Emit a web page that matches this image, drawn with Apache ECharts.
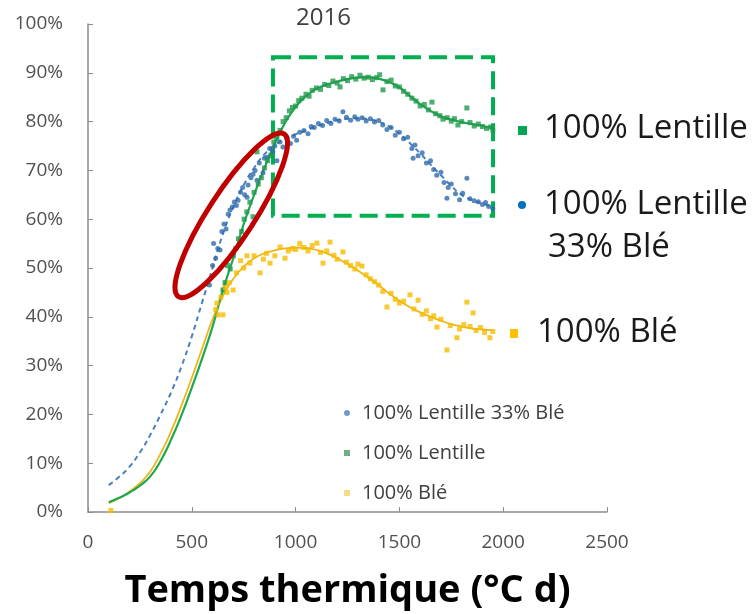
<!DOCTYPE html>
<html lang="fr">
<head>
    <meta charset="UTF-8">
    <title>2016</title>
    <script src="https://cdn.jsdelivr.net/npm/echarts@6/dist/echarts.min.js"></script>
    <style>
        html,body{
            margin: 0;
            height: 100%;
            background: #fff;
        }
    </style>
</head>
<body>
<div id="main" style="width: 755px;height: 614px"></div>
<script>
    // noms des séries
    var nomMelange = '100% Lentille 33% Blé';
    var nomLentille = '100% Lentille';
    var nomBle = '100% Blé';

    // points mesurés [temps thermique, %]
    var ptsMelange = [[585,46.5],[600,50.5],[605,55],[615,52],[625,54],[636,53.7],[645,57.5],[655,59],[665,58],[675,61],
        [684,61.9],[695,62.5],[705,63.5],[715,62.8],[723,63.9],[735,65.5],[745,66.5],[755,65],[766,64.5],[771,67],
        [785,68.5],[795,69.2],[805,70],[814,68],[825,71.5],[843,69.5],[850,72.5],[862,72.7],[875,74.5],[890,73.8],
        [900,75],[910,72],[925,75.8],[939,74.8],[958,76.8],[975,75.5],[990,77],[1005,76.2],[1020,77.8],[1040,78.2],
        [1060,77.5],[1075,79],[1090,78.8],[1110,79.6],[1130,79.2],[1150,80.2],[1170,79.6],[1190,80.5],[1210,80.1],[1228,82],
        [1245,80.9],[1265,80.3],[1285,81],[1300,80.5],[1320,80.8],[1340,80.1],[1360,80.6],[1380,79.9],[1400,80.2],[1420,79.3],
        [1440,78.4],[1460,78.8],[1480,77.2],[1500,77.8],[1520,76.5],[1540,76.8],[1560,74.5],[1566,72.5],[1575,75.2],[1590,73],
        [1610,73.6],[1630,71.5],[1650,72],[1665,70.2],[1680,69],[1700,69.6],[1715,67.5],[1729,64.3],[1735,66.5],[1750,67.2],
        [1770,65.2],[1790,64],[1805,65.3],[1825,68.4],[1840,64.2],[1860,63.8],[1880,63.6],[1900,63],[1915,63.4],[1930,62.6],[1950,62.2]];

    var ptsLentille = [[650,45.5],[660,47],[672,50.5],[685,49.8],[700,52.5],[712,54],[725,56],[740,57.5],[752,60],[765,61.5],
        [780,63.5],[795,60.5],[800,65.5],[814,73.8],[820,67.2],[835,68.5],[850,70.5],[865,72],[880,73],[895,75.8],
        [910,76.5],[925,78.2],[940,80],[955,80.8],[970,82.2],[985,82.9],[1000,83.2],[1015,84.3],[1030,84.8],[1050,85.6],
        [1065,85.2],[1080,86.4],[1100,86.9],[1120,86.6],[1140,87.6],[1160,87.4],[1180,88.3],[1200,87.9],[1214,87.1],[1230,88.8],
        [1250,88.4],[1270,89.2],[1290,88.7],[1310,89.5],[1330,88.9],[1350,89.1],[1370,88.6],[1390,89],[1405,89.6],[1421,86.5],
        [1440,88.2],[1460,88.5],[1480,87.3],[1500,87.1],[1520,86.2],[1540,85.6],[1560,84.8],[1580,84.2],[1600,83.2],[1620,83.5],
        [1640,82.4],[1657,84],[1675,81.6],[1695,81.2],[1710,80.5],[1730,80.8],[1750,80.1],[1765,80.6],[1782,79.3],[1800,80],
        [1825,82.8],[1840,79.8],[1860,79.1],[1880,79.5],[1900,79],[1920,78.6],[1940,78.9],[1950,78.3]];

    var ptsBle = [[110,0.3],[615,41.5],[621,42.8],[626,40.4],[640,44],[650,40.4],[662,46],[669,45],[680,47],[699,45.5],
        [715,49],[735,51.5],[750,50],[766,52.5],[780,51],[800,52.5],[829,49],[845,51.8],[860,53],[877,51],
        [900,52.5],[925,54.3],[949,52],[965,53.5],[985,54],[1000,53.8],[1020,55],[1040,54.2],[1060,53.5],[1080,54.6],
        [1103,55.1],[1120,53.2],[1132,51],[1150,53.5],[1166,55.3],[1185,52.6],[1200,51.8],[1228,53.3],[1245,51.2],[1265,50.5],
        [1285,49.8],[1300,50.8],[1320,50.4],[1340,48.6],[1360,47.8],[1380,47.2],[1400,46.5],[1420,45.2],[1440,42],[1460,44.8],
        [1480,43.6],[1500,42.8],[1520,43.2],[1551,44.5],[1570,41.6],[1590,43.4],[1610,40.5],[1630,41.2],[1650,39.6],[1665,40.2],
        [1681,37.9],[1700,39.5],[1729,33.2],[1745,38.2],[1777,35.7],[1790,37.5],[1810,38.4],[1825,43],[1840,38],[1855,40.8],
        [1870,37.2],[1890,37.8],[1910,36.8],[1936,35.7],[1950,37]];

    // courbes ajustées (lues tous les 50 °C d)
    var fitMelange = [[100,5.5],[150,7.2],[200,9.3],[250,12.2],[300,15.8],[350,20],[400,24.5],[450,29.8],[500,36],[550,43],
        [600,50],[650,57],[700,62.5],[750,67],[800,70.5],[850,73.3],[900,75.2],[950,76.5],[1000,77.4],[1050,78.2],
        [1100,79],[1150,79.7],[1200,80.3],[1250,80.6],[1300,80.7],[1350,80.5],[1400,80],[1450,79],[1500,77.5],[1550,75.6],
        [1600,73.5],[1650,71.2],[1700,69],[1750,66.8],[1800,65],[1850,63.9],[1900,63.2],[1950,62.5]];
    var fitLentille = [[100,2],[150,2.9],[200,4],[250,5.4],[300,7.3],[350,10.5],[400,14.8],[450,19.8],[500,25.5],[550,31.5],
        [600,38],[650,45.5],[700,52],[750,59],[800,65],[850,70.5],[900,75.5],[950,79.8],[1000,83],[1050,85.2],
        [1100,86.7],[1150,87.6],[1200,88.2],[1250,88.7],[1300,89],[1350,89.1],[1400,88.8],[1450,88.1],[1500,87],[1550,85.3],
        [1600,83.6],[1650,82.2],[1700,81.1],[1750,80.4],[1800,79.9],[1850,79.5],[1900,79.1],[1950,78.7]];
    var fitBle = [[100,1.8],[150,2.8],[200,4.2],[250,5.9],[300,8.3],[350,12],[400,16.5],[450,21.8],[500,27.5],[550,33.5],
        [600,39.5],[650,44.3],[700,47.8],[750,50.3],[800,52],[850,53],[900,53.6],[950,54],[1000,54.2],[1050,54.1],
        [1100,53.7],[1150,53],[1200,52],[1250,50.8],[1300,49.5],[1350,48],[1400,46.5],[1450,44.8],[1500,43.3],[1550,42],
        [1600,40.9],[1650,40],[1700,39.2],[1750,38.5],[1800,38],[1850,37.6],[1900,37.4],[1950,37.2]];

    // zone encadrée (pointillés verts) et ellipse rouge, en coordonnées des axes
    var zoneCadre = [[891, 93.2], [1951, 60.7]];
    var centreEllipse = [690, 60.8];

    var police = '"Open Sans", "Liberation Sans", sans-serif';
    var cBleu = '#2f6aad', cVert = '#1f9a4c', cJaune = '#f5bd00';

    var myChart = echarts.init(document.getElementById('main'));

    var option = {
        animation: false,
        title: {
            text: '2016',
            left: 296,
            top: 6,
            padding: 0,
            textStyle: {fontSize: 24, fontWeight: 'normal', color: '#404040', fontFamily: police}
        },
        legend: {
            orient: 'vertical',
            left: 339,
            top: 398,
            itemWidth: 6,
            itemHeight: 6,
            itemGap: 20,
            selectedMode: false,
            textStyle: {fontSize: 20, color: '#404040', fontFamily: police, padding: [0, 0, 0, 7]},
            data: [
                {name: nomMelange, icon: 'circle', itemStyle: {color: '#4f82bd'}},
                {name: nomLentille, icon: 'rect', itemStyle: {color: '#4a9a6a'}},
                {name: nomBle, icon: 'rect', itemStyle: {color: '#f2d46a'}}
            ]
        },
        grid: {left: 88, right: 148, top: 24, bottom: 102, outerBoundsMode: 'none'},
        xAxis: {
            type: 'value',
            min: 0,
            max: 2500,
            interval: 500,
            name: 'Temps thermique (°C d)',
            nameLocation: 'middle',
            nameGap: 60,
            nameTextStyle: {fontSize: 38, fontWeight: 'bold', color: '#000', fontFamily: police},
            axisLine: {lineStyle: {color: '#8c8c8c', width: 1.5}},
            axisTick: {inside: true, length: 5, lineStyle: {color: '#8c8c8c'}},
            axisLabel: {
                margin: 21, fontSize: 19, color: '#505050', fontFamily: police,
                formatter: function (v) { return String(v); }
            },
            splitLine: {show: false}
        },
        yAxis: {
            type: 'value',
            min: 0,
            max: 100,
            interval: 10,
            axisLine: {show: true, lineStyle: {color: '#8c8c8c', width: 1.5}},
            axisTick: {show: true, inside: true, length: 5, lineStyle: {color: '#8c8c8c'}},
            axisLabel: {margin: 25, fontSize: 19, color: '#505050', fontFamily: police, formatter: '{value}%'},
            splitLine: {show: false}
        },
        series: [
            {
                name: 'ajustement melange', type: 'line', data: fitMelange, smooth: 0.5,
                showSymbol: false, silent: true, z: 2,
                lineStyle: {color: '#4a7fc0', width: 2, type: [5, 4]}
            },
            {
                name: 'ajustement ble', type: 'line', data: fitBle, smooth: 0.5,
                showSymbol: false, silent: true, z: 2,
                lineStyle: {color: '#f0b41c', width: 1.8}
            },
            {
                name: 'ajustement lentille', type: 'line', data: fitLentille, smooth: 0.5,
                showSymbol: false, silent: true, z: 2,
                lineStyle: {color: '#20a84e', width: 2.2}
            },
            {
                name: nomMelange, type: 'scatter', data: ptsMelange, symbol: 'circle', symbolSize: 5, z: 3,
                itemStyle: {color: cBleu}
            },
            {
                name: nomLentille, type: 'scatter', data: ptsLentille, symbol: 'rect', symbolSize: 5, z: 3,
                itemStyle: {color: cVert},
                markArea: {
                    silent: true,
                    itemStyle: {color: 'rgba(0,0,0,0)', borderColor: '#00b050', borderWidth: 4, borderType: [18, 8]},
                    data: [[{coord: zoneCadre[0]}, {coord: zoneCadre[1]}]]
                }
            },
            {
                name: nomBle, type: 'scatter', data: ptsBle, symbol: 'rect', symbolSize: 5, z: 3,
                itemStyle: {color: cJaune}
            }
        ]
    };
    myChart.setOption(option);

    // annotations : ellipse rouge et étiquettes de droite
    var c = myChart.convertToPixel({gridIndex: 0}, centreEllipse);
    var gros = {fontSize: 33, fontFamily: police, fill: '#1a1a1a', verticalAlign: 'middle'};
    myChart.setOption({
        graphic: [
            {
                type: 'ellipse', x: c[0], y: c[1], rotation: 57 * Math.PI / 180, z: 10, silent: true,
                shape: {cx: 0, cy: 0, rx: 97, ry: 23},
                style: {fill: 'none', stroke: '#c00000', lineWidth: 5}
            },
            {type: 'rect', shape: {x: 518, y: 126, width: 9, height: 9}, style: {fill: '#00a651'}},
            {type: 'text', x: 544, y: 129, style: Object.assign({text: '100% Lentille'}, gros)},
            {type: 'circle', shape: {cx: 522, cy: 205, r: 4}, style: {fill: '#0070c0'}},
            {type: 'text', x: 544, y: 205, style: Object.assign({text: '100% Lentille'}, gros)},
            {type: 'text', x: 548, y: 248, style: Object.assign({text: '33% Blé'}, gros)},
            {type: 'rect', shape: {x: 510, y: 329, width: 8, height: 9}, style: {fill: '#ffc000'}},
            {type: 'text', x: 537, y: 333, style: Object.assign({text: '100% Blé'}, gros)}
        ]
    });
</script>
</body>
</html>
